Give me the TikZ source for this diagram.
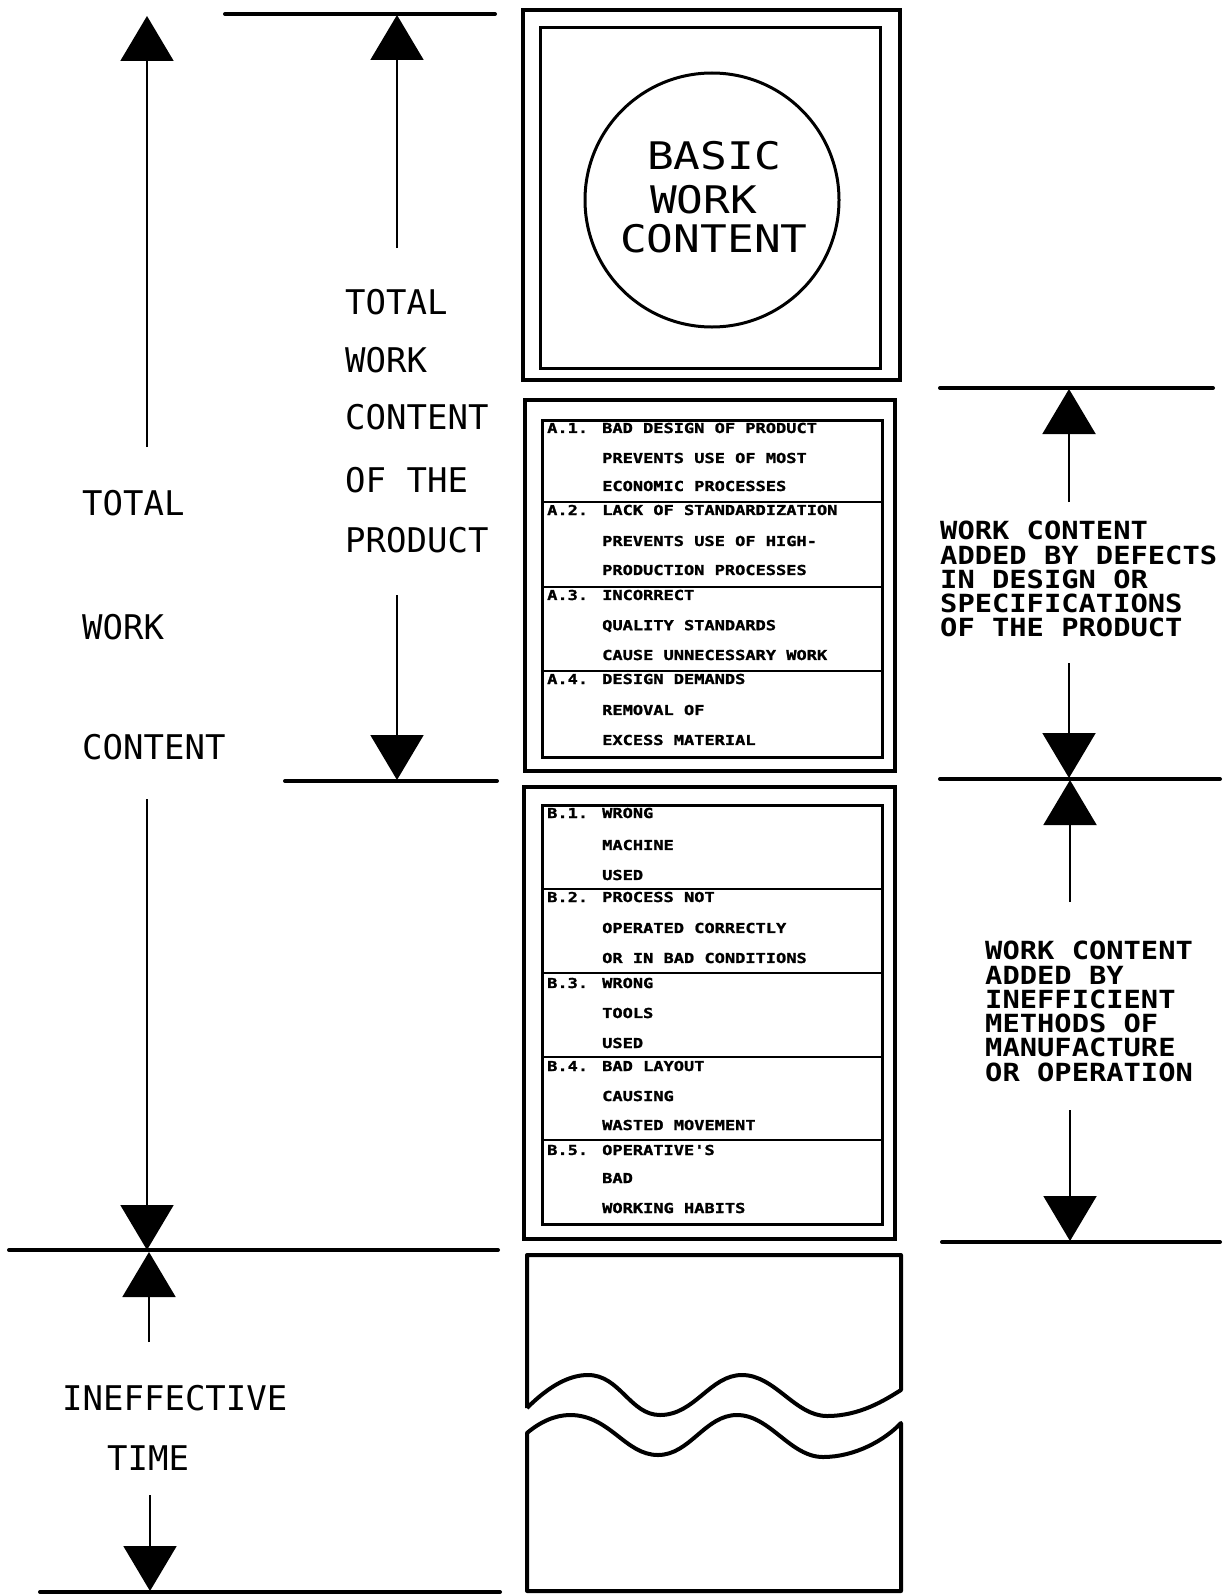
\documentclass[tikz,border=0pt]{standalone}
\usepackage{fontspec}
\usetikzlibrary{arrows.meta}
\newfontfamily\monoA{DejaVu Sans Mono}
\newfontfamily\monoB{DejaVu Sans Mono}[FakeStretch=1.17]
\newfontfamily\monoR{DejaVu Sans Mono}[FakeStretch=1.15]
\newfontfamily\monoT{DejaVu Sans Mono}[FakeStretch=1.24,FakeBold=1.5]
\begin{document}
\begin{tikzpicture}[x=1pt,y=-1pt,
  frame/.style={line width=4.5pt},
  innerframe/.style={line width=3pt},
  rowline/.style={line width=2.5pt},
  dimline/.style={line width=4pt,line cap=round},
  shaft/.style={line width=2pt,-{Triangle[width=53pt,length=45pt]}},
  lbl/.style={font=\monoA\fontsize{34}{40}\selectfont,inner sep=0pt,anchor=west},
  big/.style={font=\monoB\fontsize{38}{44}\selectfont,inner sep=0pt,anchor=west},
  side/.style={font=\monoR\bfseries\fontsize{25}{24.3}\selectfont,inner sep=0pt,anchor=north west,align=left},
  tbl/.style={font=\monoT\bfseries\fontsize{13.7}{16}\selectfont,inner sep=0pt,anchor=west}]
\useasboundingbox (0,0) rectangle (1230,1595);

% ---------- left column: total work content ----------
\coordinate (L1s) at (147,447); \coordinate (L1t) at (147,16);
\draw[shaft] (L1s) -- (L1t);
\node[lbl] (twc1) at (82,503) {TOTAL};
\node[lbl] (twc2) at (82,627) {WORK};
\node[lbl] (twc3) at (82,747) {CONTENT};
\coordinate (L2s) at (147,799); \coordinate (L2t) at (147,1250);
\draw[shaft] (L2s) -- (L2t);
\coordinate (H3a) at (9,1250); \coordinate (H3b) at (498,1250);
\draw[dimline] (H3a) -- (H3b);
\coordinate (L3s) at (149,1342); \coordinate (L3t) at (149,1252);
\draw[shaft] (L3s) -- (L3t);
\node[lbl] (it1) at (62,1398) {INEFFECTIVE};
\node[lbl] (it2) at (107,1458) {TIME};
\coordinate (L4s) at (150,1495); \coordinate (L4t) at (150,1591);
\draw[shaft] (L4s) -- (L4t);
\coordinate (H4a) at (40,1592); \coordinate (H4b) at (500,1592);
\draw[dimline] (H4a) -- (H4b);

% ---------- second column: total work content of the product ----------
\coordinate (H1a) at (225,14); \coordinate (H1b) at (495,14);
\draw[dimline] (H1a) -- (H1b);
\coordinate (M1s) at (397,248); \coordinate (M1t) at (397,15);
\draw[shaft] (M1s) -- (M1t);
\node[lbl] (tp1) at (345,302) {TOTAL};
\node[lbl] (tp2) at (345,360) {WORK};
\node[lbl] (tp3) at (345,417) {CONTENT};
\node[lbl] (tp4) at (345,480) {OF THE};
\node[lbl] (tp5) at (345,540) {PRODUCT};
\coordinate (M2s) at (397,595); \coordinate (M2t) at (397,780);
\draw[shaft] (M2s) -- (M2t);
\coordinate (H2a) at (285,781); \coordinate (H2b) at (497,781);
\draw[dimline] (H2a) -- (H2b);

% ---------- right column ----------
\coordinate (R1a) at (940,388); \coordinate (R1b) at (1213,388);
\draw[dimline] (R1a) -- (R1b);
\coordinate (R1s) at (1069,502); \coordinate (R1t) at (1069,389);
\draw[shaft] (R1s) -- (R1t);
\node[side] (wcd) at (940,521) {WORK CONTENT\\ADDED BY DEFECTS\\IN DESIGN OR\\SPECIFICATIONS\\OF THE PRODUCT};
\coordinate (R2s) at (1069,663); \coordinate (R2t) at (1069,778);
\draw[shaft] (R2s) -- (R2t);
\coordinate (R2a) at (940,779); \coordinate (R2b) at (1220,779);
\draw[dimline] (R2a) -- (R2b);
\coordinate (R3s) at (1070,902); \coordinate (R3t) at (1070,780);
\draw[shaft] (R3s) -- (R3t);
\node[side] (wci) at (985,941) {WORK CONTENT\\ADDED BY\\INEFFICIENT\\METHODS OF\\MANUFACTURE\\OR OPERATION};
\coordinate (R4s) at (1070,1110); \coordinate (R4t) at (1070,1241);
\draw[shaft] (R4s) -- (R4t);
\coordinate (R3a) at (942,1242); \coordinate (R3b) at (1220,1242);
\draw[dimline] (R3a) -- (R3b);

% ---------- box 1: basic work content ----------
\draw[frame] (523,10) rectangle (900,380);
\draw[innerframe] (540,28) rectangle (880,368);
\draw[innerframe] (712,200) circle[radius=127];
\node[big] (bw1) at (647,156) {BASIC};
\node[big] (bw2) at (650,200) {WORK};
\node[big] (bw3) at (620,239) {CONTENT};

% ---------- box 2: defects in design ----------
\draw[frame] (525,400) rectangle (895,771);
\draw[innerframe] (542,420) rectangle (882,757);
\draw[rowline] (542,502) -- (882,502);
\draw[rowline] (542,587) -- (882,587);
\draw[rowline] (542,671) -- (882,671);
\node[tbl] (a1) at (547,428) {A.1.};
\node[tbl] (a1a) at (602,428) {BAD DESIGN OF PRODUCT};
\node[tbl] (a1b) at (602,458) {PREVENTS USE OF MOST};
\node[tbl] (a1c) at (602,486) {ECONOMIC PROCESSES};
\node[tbl] (a2) at (547,510) {A.2.};
\node[tbl] (a2a) at (602,510) {LACK OF STANDARDIZATION};
\node[tbl] (a2b) at (602,541) {PREVENTS USE OF HIGH-};
\node[tbl] (a2c) at (602,570) {PRODUCTION PROCESSES};
\node[tbl] (a3) at (547,595) {A.3.};
\node[tbl] (a3a) at (602,595) {INCORRECT};
\node[tbl] (a3b) at (602,626) {QUALITY STANDARDS};
\node[tbl] (a3c) at (602,655) {CAUSE UNNECESSARY WORK};
\node[tbl] (a4) at (547,679) {A.4.};
\node[tbl] (a4a) at (602,679) {DESIGN DEMANDS};
\node[tbl] (a4b) at (602,710) {REMOVAL OF};
\node[tbl] (a4c) at (602,740) {EXCESS MATERIAL};

% ---------- box 3: inefficient methods ----------
\draw[frame] (524,787) rectangle (895,1239);
\draw[innerframe] (542,805) rectangle (882,1224);
\draw[rowline] (542,889) -- (882,889);
\draw[rowline] (542,973) -- (882,973);
\draw[rowline] (542,1057) -- (882,1057);
\draw[rowline] (542,1140) -- (882,1140);
\node[tbl] (b1) at (547,813) {B.1.};
\node[tbl] (b1a) at (602,813) {WRONG};
\node[tbl] (b1b) at (602,845) {MACHINE};
\node[tbl] (b1c) at (602,875) {USED};
\node[tbl] (b2) at (547,897) {B.2.};
\node[tbl] (b2a) at (602,897) {PROCESS NOT};
\node[tbl] (b2b) at (602,928) {OPERATED CORRECTLY};
\node[tbl] (b2c) at (602,958) {OR IN BAD CONDITIONS};
\node[tbl] (b3) at (547,983) {B.3.};
\node[tbl] (b3a) at (602,983) {WRONG};
\node[tbl] (b3b) at (602,1013) {TOOLS};
\node[tbl] (b3c) at (602,1043) {USED};
\node[tbl] (b4) at (547,1066) {B.4.};
\node[tbl] (b4a) at (602,1066) {BAD LAYOUT};
\node[tbl] (b4b) at (602,1096) {CAUSING};
\node[tbl] (b4c) at (602,1125) {WASTED MOVEMENT};
\node[tbl] (b5) at (547,1150) {B.5.};
\node[tbl] (b5a) at (602,1150) {OPERATIVE'S};
\node[tbl] (b5b) at (602,1178) {BAD};
\node[tbl] (b5c) at (602,1208) {WORKING HABITS};

% ---------- box 4: ineffective time (broken) ----------
\draw[line width=4pt,line join=round]
  (527,1408) -- (527,1255) -- (901,1255) -- (901,1390)
  .. controls (885,1400) and (860,1416) .. (827,1416)
  .. controls (795,1416) and (775,1375) .. (742,1375)
  .. controls (710,1375) and (695,1415) .. (660,1415)
  .. controls (630,1415) and (620,1375) .. (588,1375)
  .. controls (570,1375) and (550,1385) .. (527,1408);
\draw[line width=4pt,line join=round]
  (527,1433)
  .. controls (540,1422) and (555,1415) .. (570,1415)
  .. controls (610,1415) and (625,1455) .. (658,1455)
  .. controls (690,1455) and (705,1415) .. (737,1415)
  .. controls (770,1415) and (790,1457) .. (823,1457)
  .. controls (855,1457) and (885,1440) .. (901,1423)
  -- (901,1591) -- (527,1591) -- cycle;
\end{tikzpicture}
\end{document}
